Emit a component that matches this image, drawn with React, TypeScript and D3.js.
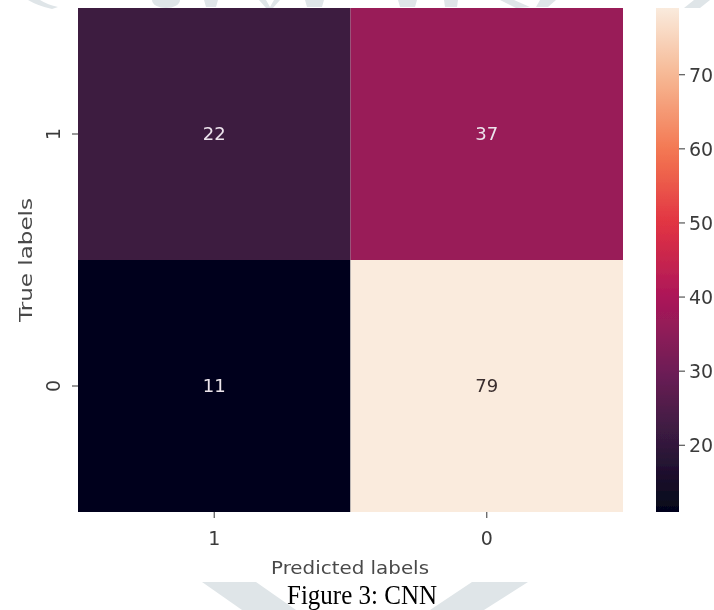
import React from "react";
import * as d3 from "d3";

// ---- data ----
const predictedLabels = ["1", "0"];
const trueLabels = ["1", "0"];
const row1Values = [22, 37];
const row0Values = [11, 79];
const colorbarTicks = [20, 30, 40, 50, 60, 70];
const valueMin = 11;
const valueMax = 79;
const rocketStops = ["#03051a", "#35193e", "#701f57", "#ad1759", "#e13342", "#f37651", "#f6b48f", "#faebdd"];

const W = 714;
const H = 610;
const left = 78, right = 623, top = 8, bottom = 512;
const cbLeft = 656, cbRight = 679;
const FONT = "'DejaVu Sans', sans-serif";

export default function App() {
  const rocket = d3.piecewise(d3.interpolateRgb, rocketStops);
  const color = d3.scaleSequential(rocket).domain([valueMin, valueMax]);
  const x = d3.scaleBand<string>().domain(predictedLabels).range([left, right]);
  const y = d3.scaleBand<string>().domain(trueLabels).range([top, bottom]);
  const cbScale = d3.scaleLinear().domain([valueMin, valueMax]).range([bottom, top]);
  const matrix = [row1Values, row0Values];
  const cells: { r: string; c: string; v: number }[] = [];
  trueLabels.forEach((r, i) => predictedLabels.forEach((c, j) => cells.push({ r, c, v: matrix[i][j] })));
  const gradStops = d3.range(0, 1.0001, 0.02);
  const wm = "#dfe5e8";

  return (
    <svg width={W} height={H} style={{ position: "absolute", left: 0, top: 0, background: "#fff" }}>
      <defs>
        <linearGradient id="cb" x1="0" y1="1" x2="0" y2="0">
          {gradStops.map((t) => (
            <stop key={t} offset={t} stopColor={rocket(t)} />
          ))}
        </linearGradient>
        <filter id="soft" x="-5%" y="-5%" width="110%" height="110%">
          <feGaussianBlur stdDeviation="0.75" />
        </filter>
      </defs>
      {/* faint watermark */}
      <g fill={wm}>
        <path d="M28,0 L40,0 Q48,5 58,7 L52,9 Q38,6 28,0 Z" />
        <ellipse cx={166} cy={0} rx={14} ry={8} />
        <path d="M204,0 L218,0 L216,7 L206,7 Z" />
        <path d="M259,0 L266,0 L270,7 L274,0 L280,0 L273,8 L266,8 Z" />
        <path d="M305,0 L324,0 L322,7 L307,7 Z" />
        <path d="M398,0 L417,0 L415,7 L400,7 Z" />
        <path d="M444,0 L458,0 L457,7 L445,7 Z" />
        <path d="M500,0 L514,0 L530,7 L516,8 Z" />
        <path d="M540,0 L556,0 L548,7 L536,7 Z" />
        <path d="M694,0 L710,0 L700,8 L684,8 Z" />
        <path d="M202,582 L256,582 L296,610 L242,610 Z" />
        <path d="M472,582 L528,582 L484,610 L430,610 Z" />
      </g>
      <g filter="url(#soft)">
        {/* heatmap cells */}
        {cells.map((d) => (
          <rect key={d.r + d.c} x={x(d.c)} y={y(d.r)} width={x.bandwidth()} height={y.bandwidth()} fill={color(d.v)} />
        ))}
        {cells.map((d) => (
          <text
            key={"t" + d.r + d.c}
            x={(x(d.c) as number) + x.bandwidth() / 2}
            y={(y(d.r) as number) + y.bandwidth() / 2}
            dy="0.36em"
            textAnchor="middle"
            fontFamily={FONT}
            fontSize={18}
            fill={d3.hsl(color(d.v)).l > 0.5 ? "#3a2e2e" : "#ece4ec"}
          >
            {d.v}
          </text>
        ))}
        {/* x axis */}
        {predictedLabels.map((c) => {
          const cx = (x(c) as number) + x.bandwidth() / 2;
          return (
            <g key={"x" + c}>
              <line x1={cx} x2={cx} y1={bottom} y2={bottom + 6} stroke="#555" strokeWidth={1.2} />
              <text x={cx} y={545} textAnchor="middle" fontFamily={FONT} fontSize={19} fill="#3a3a3a">
                {c}
              </text>
            </g>
          );
        })}
        <text x={350} y={574} textAnchor="middle" fontFamily={FONT} fontSize={18} fill="#4a4a4a" textLength={158} lengthAdjust="spacingAndGlyphs">
          Predicted labels
        </text>
        {/* y axis */}
        {trueLabels.map((r) => {
          const cy = (y(r) as number) + y.bandwidth() / 2;
          return (
            <g key={"y" + r}>
              <line x1={left - 6} x2={left} y1={cy} y2={cy} stroke="#555" strokeWidth={1.2} />
              <text transform={`translate(60,${cy}) rotate(-90)`} textAnchor="middle" fontFamily={FONT} fontSize={19} fill="#3a3a3a">
                {r}
              </text>
            </g>
          );
        })}
        <text transform={`translate(32,260) rotate(-90)`} textAnchor="middle" fontFamily={FONT} fontSize={18} fill="#4a4a4a" textLength={124} lengthAdjust="spacingAndGlyphs">
          True labels
        </text>
        {/* colorbar */}
        <rect x={cbLeft} y={top} width={cbRight - cbLeft} height={bottom - top} fill="url(#cb)" />
        {colorbarTicks.map((t) => (
          <g key={"cb" + t}>
            <line x1={cbRight} x2={cbRight + 6} y1={cbScale(t)} y2={cbScale(t)} stroke="#555" strokeWidth={1.2} />
            <text x={cbRight + 10} y={cbScale(t)} dy="0.36em" fontFamily={FONT} fontSize={19} fill="#3a3a3a">
              {t}
            </text>
          </g>
        ))}
      </g>
      {/* caption */}
      <text x={362} y={604} textAnchor="middle" fontFamily="'Liberation Serif', 'Times New Roman', serif" fontSize={27} fill="#000" textLength={150} lengthAdjust="spacingAndGlyphs">
        Figure 3: CNN
      </text>
    </svg>
  );
}
